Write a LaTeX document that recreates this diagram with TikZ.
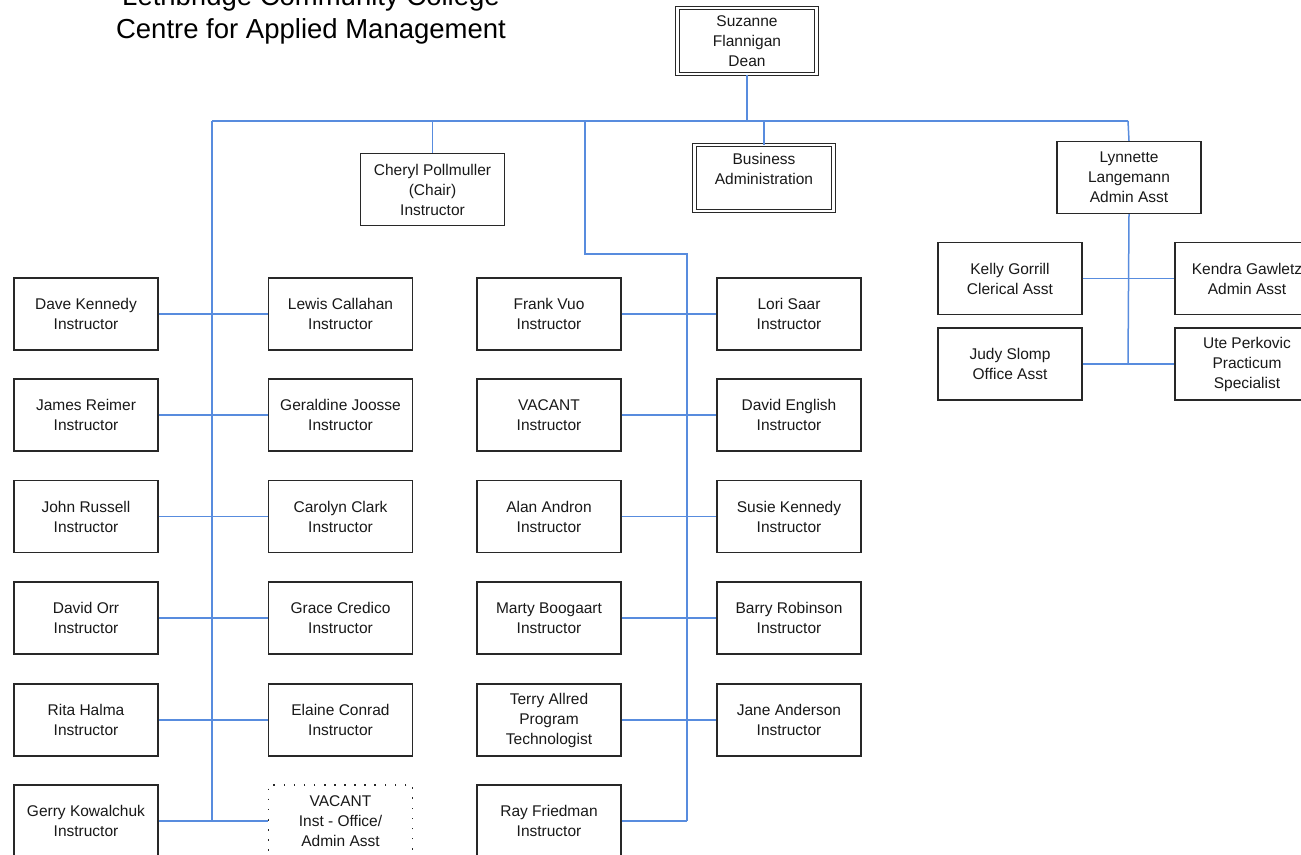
\documentclass[tikz,border=0pt]{standalone}
\usepackage{fontspec}
\setmainfont{Liberation Sans}
\definecolor{linkblue}{RGB}{88,140,222}
\definecolor{boxline}{RGB}{40,40,40}
\begin{document}
\begin{tikzpicture}[x=1pt,y=-1pt,
  person/.style={draw=boxline,line width=1.3pt,minimum width=144pt,minimum height=72pt,
    align=center,inner sep=0pt,font=\fontsize{15.5}{20}\selectfont,text=black!90},
  dblbox/.style={person,double=white,double distance=2.6pt,line width=1pt,
    minimum width=139pt,minimum height=66pt},
  vacbox/.style={person,draw=boxline,dash pattern=on 1.6pt off 8.5pt,line width=1.6pt},
  link/.style={draw=linkblue,line width=1.5pt},
  titletext/.style={font=\fontsize{27.5}{32}\selectfont,anchor=base,inner sep=0pt}]
\useasboundingbox (0,0) rectangle (1301,854);
\clip (0,0) rectangle (1301,854);
\fill[white] (0,0) rectangle (1301,854);

% title
\node[titletext] (t1) at (311,5) {Lethbridge Community College};
\node[titletext] (t2) at (311,38) {Centre for Applied Management};

% top level
\node[dblbox] (dean) at (747,41) {Suzanne\\Flannigan\\Dean};
\node[person] (cheryl) at (432.5,189.5) {Cheryl Pollmuller\\(Chair)\\Instructor};
\node[dblbox] (ba) at (764,178) {Business\\Administration\\[-8pt]\strut};
\node[person] (lyn) at (1129,177.5) {Lynnette\\Langemann\\Admin Asst};

% admin group
\node[person] (kelly) at (1010,278.5) {Kelly Gorrill\\Clerical Asst};
\node[person] (kendra) at (1247,278.5) {Kendra Gawletz\\Admin Asst};
\node[person] (judy) at (1010,364) {Judy Slomp\\Office Asst};
\node[person] (ute) at (1247,364) {Ute Perkovic\\Practicum\\Specialist};

% left column
\node[person] (dave) at (86,314) {Dave Kennedy\\Instructor};
\node[person] (lewis) at (340.5,314) {Lewis Callahan\\Instructor};
\node[person] (james) at (86,415) {James Reimer\\Instructor};
\node[person] (geraldine) at (340.5,415) {Geraldine Joosse\\Instructor};
\node[person] (john) at (86,516.5) {John Russell\\Instructor};
\node[person] (carolyn) at (340.5,516.5) {Carolyn Clark\\Instructor};
\node[person] (orr) at (86,618) {David Orr\\Instructor};
\node[person] (grace) at (340.5,618) {Grace Credico\\Instructor};
\node[person] (rita) at (86,720) {Rita Halma\\Instructor};
\node[person] (elaine) at (340.5,720) {Elaine Conrad\\Instructor};
\node[person] (gerry) at (86,821) {Gerry Kowalchuk\\Instructor};
\node[vacbox] (vac1) at (340.5,821) {VACANT\\Inst - Office/\\Admin Asst};

% middle column
\node[person] (frank) at (549,314) {Frank Vuo\\Instructor};
\node[person] (lori) at (789,314) {Lori Saar\\Instructor};
\node[person] (vac2) at (549,415) {VACANT\\Instructor};
\node[person] (english) at (789,415) {David English\\Instructor};
\node[person] (alan) at (549,516.5) {Alan Andron\\Instructor};
\node[person] (susie) at (789,516.5) {Susie Kennedy\\Instructor};
\node[person] (marty) at (549,618) {Marty Boogaart\\Instructor};
\node[person] (barry) at (789,618) {Barry Robinson\\Instructor};
\node[person] (terry) at (549,720) {Terry Allred\\Program\\Technologist};
\node[person] (jane) at (789,720) {Jane Anderson\\Instructor};
\node[person] (ray) at (549,821) {Ray Friedman\\Instructor};

% junction coordinates
\coordinate (hl) at (212,121);
\coordinate (hr) at (1128,121);
\coordinate (hd) at (747,121);
\coordinate (hc) at (432.5,121);
\coordinate (hb) at (764,121);
\coordinate (hm) at (585,121);
\coordinate (bend1) at (585,254);
\coordinate (bend2) at (687,254);
\coordinate (lbot) at (212,821);
\coordinate (mbot) at (687,821);
\coordinate (abot) at (1128,364);

% connectors
\draw[link] (dean.south) -- (hd);
\draw[link] (hl) -- (hr);
\draw[link] (hc) -- (cheryl.north);
\draw[link] (hb) -- (ba.north);
\draw[link] (hr) -- (lyn.north);
\draw[link] (hl) -- (lbot);
\draw[link] (hm) -- (bend1) -- (bend2) -- (mbot);
\draw[link] (lyn.south) -- (abot);
\draw[link] (kelly.east) -- (kendra.west);
\draw[link] (judy.east) -- (ute.west);

\draw[link] (dave.east) -- (lewis.west);
\draw[link] (james.east) -- (geraldine.west);
\draw[link] (john.east) -- (carolyn.west);
\draw[link] (orr.east) -- (grace.west);
\draw[link] (rita.east) -- (elaine.west);
\draw[link] (gerry.east) -- (vac1.west);

\draw[link] (frank.east) -- (lori.west);
\draw[link] (vac2.east) -- (english.west);
\draw[link] (alan.east) -- (susie.west);
\draw[link] (marty.east) -- (barry.west);
\draw[link] (terry.east) -- (jane.west);
\draw[link] (ray.east) -- (mbot);
\end{tikzpicture}
\end{document}
